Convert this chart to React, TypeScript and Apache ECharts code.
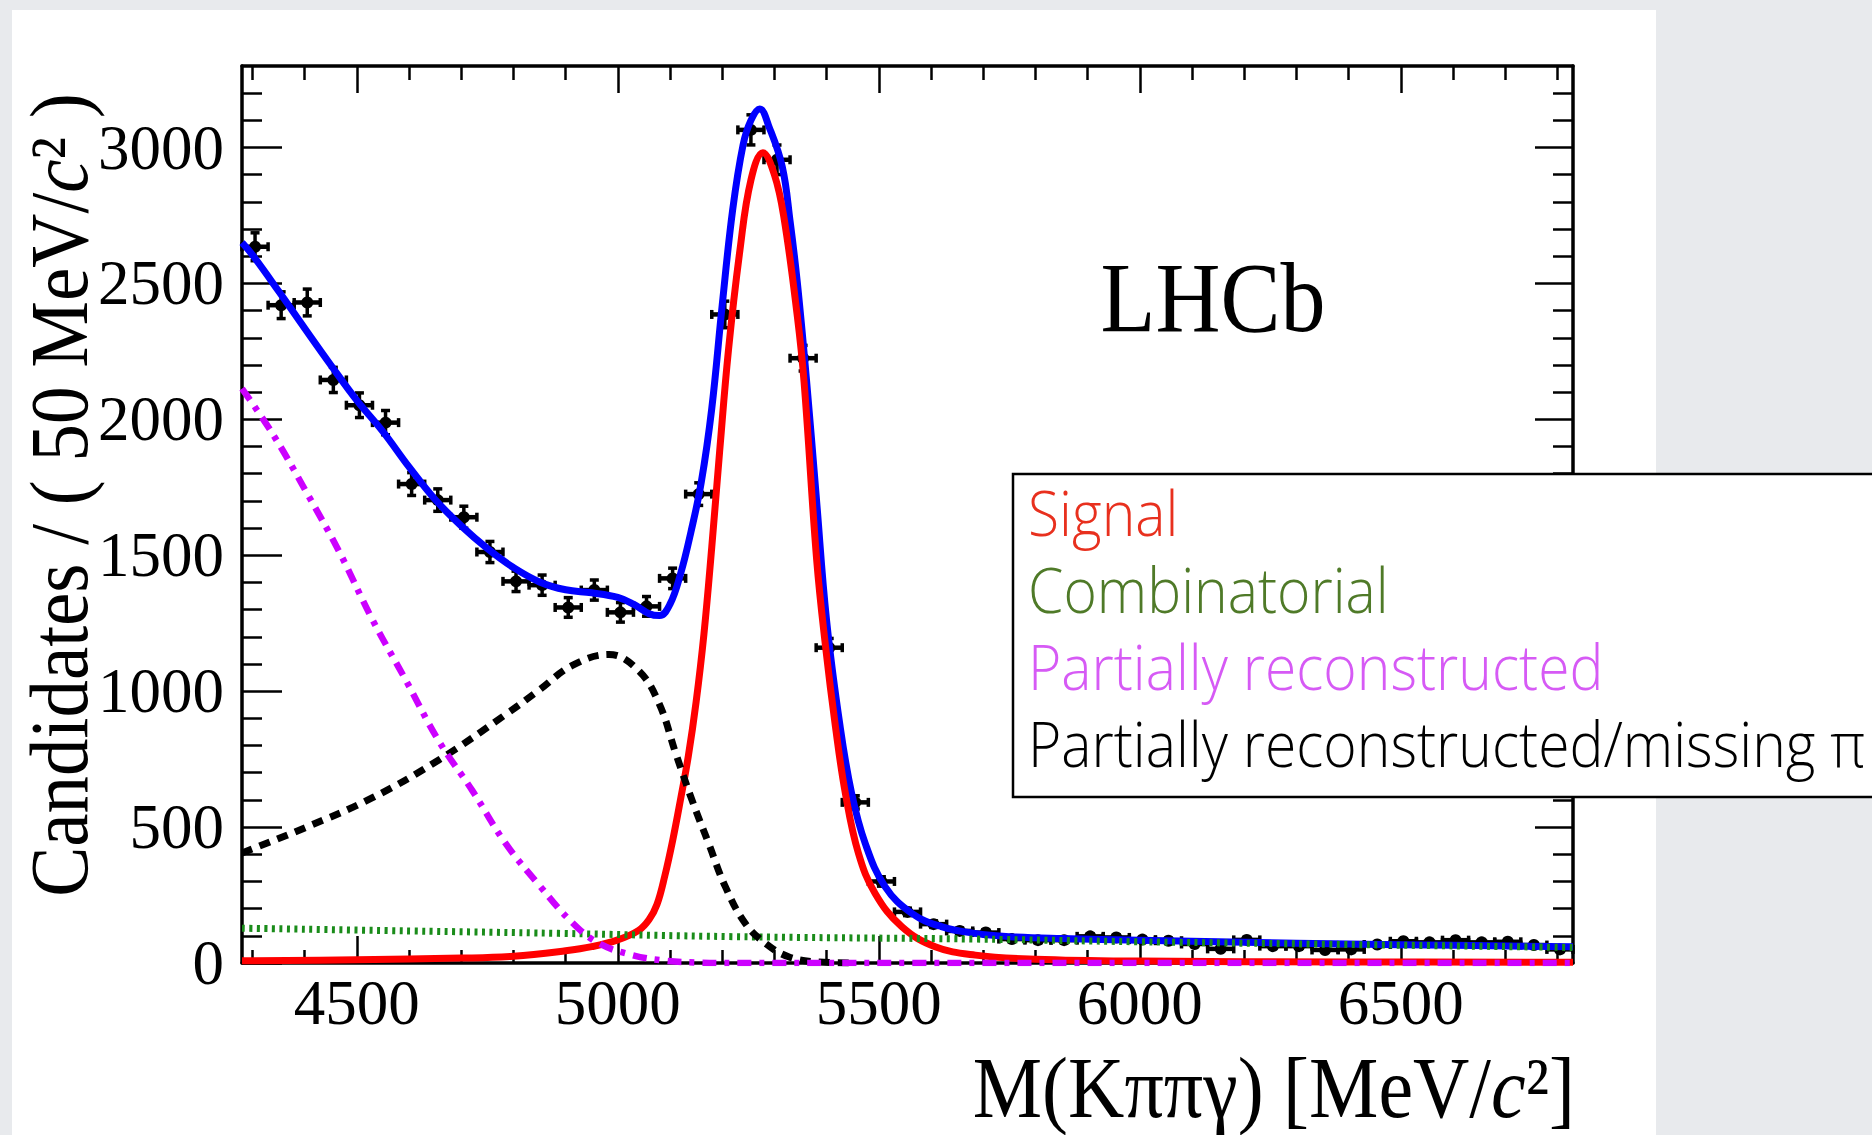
import React, { useEffect, useRef } from 'react';
import * as echarts from 'echarts';

// ---------- data ----------
const massBins = [
  4305, 4355, 4405, 4455, 4505, 4555, 4605, 4655, 4705, 4755,
  4805, 4855, 4905, 4955, 5005, 5055, 5105, 5155, 5205, 5255,
  5305, 5355, 5405, 5455, 5505, 5555, 5605, 5655, 5705, 5755,
  5805, 5855, 5905, 5955, 6005, 6055, 6105, 6155, 6205, 6255,
  6305, 6355, 6405, 6455, 6505, 6555, 6605, 6655, 6705, 6755, 6805,
];
const candidates = [
  2635, 2420, 2430, 2145, 2052, 1988, 1762, 1703, 1640, 1512,
  1404, 1390, 1308, 1372, 1290, 1312, 1415, 1725, 2386, 3065,
  2955, 2225, 1160, 591, 300, 188, 143, 118, 112, 88,
  84, 84, 98, 94, 86, 82, 70, 52, 85, 62,
  62, 48, 50, 68, 80, 76, 84, 76, 78, 66, 50,
];
const binHalfWidth = 25;

const totalX = [4280, 4300, 4350, 4400, 4450, 4500, 4550, 4600, 4650, 4700, 4750, 4800, 4850, 4900, 4950, 5000, 5030, 5060, 5080, 5100, 5120, 5140, 5160, 5180, 5200, 5220, 5240, 5255, 5272, 5290, 5315, 5330, 5344, 5362, 5380, 5400, 5426, 5448, 5474, 5512, 5563, 5620, 5684, 5750, 5850, 6000, 6200, 6400, 6600, 6830];
const totalY = [2650, 2605, 2472, 2335, 2200, 2070, 1955, 1825, 1705, 1608, 1525, 1455, 1402, 1373, 1362, 1345, 1320, 1285, 1278, 1320, 1430, 1585, 1770, 2040, 2420, 2770, 3010, 3100, 3142, 3075, 2930, 2730, 2502, 2134, 1720, 1260, 869, 624, 440, 281, 183, 134, 109, 97, 90, 84, 76, 70, 65, 60];

const signalX = [4280, 4500, 4700, 4800, 4900, 4950, 5000, 5040, 5060, 5075, 5090, 5105, 5120, 5135, 5150, 5165, 5180, 5195, 5212, 5234, 5255, 5278, 5300, 5318, 5344, 5357, 5381, 5398, 5417, 5436, 5461, 5493, 5544, 5608, 5685, 5800, 6000, 6400, 6830];
const signalY = [8, 12, 18, 25, 45, 60, 85, 120, 160, 215, 320, 450, 600, 760, 960, 1210, 1530, 1880, 2255, 2623, 2880, 2981, 2900, 2746, 2378, 2134, 1483, 1164, 869, 624, 404, 256, 134, 60, 29, 14, 7, 4, 3];

const combinatorialX = [4280, 4600, 4887, 5220, 5684, 6000, 6400, 6830];
const combinatorialY = [128, 118, 109, 97, 88, 78, 68, 57];

const partRecoX = [4280, 4339, 4402, 4466, 4530, 4594, 4657, 4721, 4785, 4849, 4913, 4964, 5028, 5092, 5150, 5200, 6830];
const partRecoY = [2113, 1946, 1737, 1514, 1263, 1040, 817, 635, 440, 287, 148, 72, 29, 8, 2, 0, 0];

const missingPiX = [4280, 4400, 4530, 4657, 4785, 4850, 4913, 4983, 5040, 5079, 5111, 5142, 5174, 5206, 5244, 5283, 5327, 5380, 5450];
const missingPiY = [405, 497, 608, 747, 914, 1005, 1095, 1135, 1075, 955, 771, 600, 440, 281, 146, 72, 23, 4, 0];

const xMajorTicks = [4500, 5000, 5500, 6000, 6500];
const xMinorTicks = [4300, 4400, 4600, 4700, 4800, 4900, 5100, 5200, 5300, 5400, 5600, 5700, 5800, 5900, 6100, 6200, 6300, 6400, 6600, 6700, 6800];
const yMajorTicks = [0, 500, 1000, 1500, 2000, 2500, 3000];
const yMinorTicks = [100, 200, 300, 400, 600, 700, 800, 900, 1100, 1200, 1300, 1400, 1600, 1700, 1800, 1900, 2100, 2200, 2300, 2400, 2600, 2700, 2800, 2900, 3100, 3200];

const legendLabels = ['Signal', 'Combinatorial', 'Partially reconstructed', 'Partially reconstructed/missing π'];
const legendColors = ['#e8301e', '#4f7a28', '#d65af5', '#000000'];

// ---------- styling ----------
const serif = '"Liberation Serif", "Times New Roman", serif';
const sans = '"Open Sans", "Noto Sans", sans-serif';
const X_MIN = 4280, X_MAX = 6830, Y_MIN = 0, Y_MAX = 3300;
const plain = (v: number) => String(v);

function xAxis(position: string, ticks: number[], len: number, line: boolean, labels: boolean) {
  return {
    type: 'value', position, min: X_MIN, max: X_MAX,
    axisLine: { show: line, onZero: false, lineStyle: { color: '#000', width: 3.5 } },
    axisTick: { show: true, inside: true, length: len, customValues: ticks, lineStyle: { color: '#000', width: 2.5 } },
    axisLabel: labels
      ? { show: true, customValues: ticks, formatter: plain, fontFamily: serif, fontSize: 63, color: '#000', margin: 8 }
      : { show: false },
    splitLine: { show: false },
  };
}
function yAxis(position: string, ticks: number[], len: number, line: boolean, labels: boolean) {
  return {
    type: 'value', position, min: Y_MIN, max: Y_MAX,
    axisLine: { show: line, onZero: false, lineStyle: { color: '#000', width: 3.5 } },
    axisTick: { show: true, inside: true, length: len, customValues: ticks, lineStyle: { color: '#000', width: 2.5 } },
    axisLabel: labels
      ? { show: true, customValues: ticks, formatter: plain, fontFamily: serif, fontSize: 63, color: '#000', margin: 18 }
      : { show: false },
    splitLine: { show: false },
  };
}

function curve(name: string, xs: number[], ys: number[], color: string, width: number, type: any, z: number) {
  return {
    type: 'line', name, z, silent: true,
    data: xs.map((x, i) => [x, ys[i]]),
    showSymbol: false, symbol: 'none',
    smooth: 0.4,
    lineStyle: { color, width, type, cap: 'butt', join: 'round' },
  };
}

export default function App() {
  const ref = useRef<HTMLDivElement>(null);
  useEffect(() => {
    const chart = echarts.init(ref.current!, null, { renderer: 'svg' });
    const option: any = {
      animation: false,
      backgroundColor: '#e8eaed',
      grid: { left: 242, top: 66, width: 1331, height: 897, containLabel: false, outerBoundsMode: 'none' },
      xAxis: [
        xAxis('bottom', xMajorTicks, 27, true, true),
        xAxis('bottom', xMinorTicks, 13, false, false),
        xAxis('top', xMajorTicks, 27, true, false),
        xAxis('top', xMinorTicks, 14, false, false),
      ],
      yAxis: [
        yAxis('left', yMajorTicks, 40, true, true),
        yAxis('left', yMinorTicks, 20, false, false),
        yAxis('right', yMajorTicks, 38, true, false),
        yAxis('right', yMinorTicks, 20, false, false),
      ],
      series: [
        {
          type: 'custom', name: 'Data', z: 1, silent: true,
          xAxisIndex: 0, yAxisIndex: 0,
          data: massBins.map((m, i) => [m, candidates[i]]),
          encode: { x: 0, y: 1 },
          renderItem: (params: any, api: any) => {
            const x = api.value(0);
            const y = api.value(1);
            const err = Math.sqrt(y);
            const c = api.coord([x, y]);
            const hi = api.coord([x, y + err]);
            const lo = api.coord([x, y - err]);
            const l = api.coord([x - binHalfWidth, y]);
            const r = api.coord([x + binHalfWidth, y]);
            const st = { stroke: '#000', lineWidth: 3.5 };
            return {
              type: 'group',
              children: [
                { type: 'line', shape: { x1: c[0], y1: hi[1], x2: c[0], y2: lo[1] }, style: st },
                { type: 'line', shape: { x1: l[0], y1: c[1], x2: r[0], y2: c[1] }, style: { stroke: '#000', lineWidth: 4.5 } },
                { type: 'line', shape: { x1: c[0] - 4.5, y1: hi[1], x2: c[0] + 4.5, y2: hi[1] }, style: st },
                { type: 'line', shape: { x1: c[0] - 4.5, y1: lo[1], x2: c[0] + 4.5, y2: lo[1] }, style: st },
                { type: 'line', shape: { x1: l[0], y1: c[1] - 4.5, x2: l[0], y2: c[1] + 4.5 }, style: st },
                { type: 'line', shape: { x1: r[0], y1: c[1] - 4.5, x2: r[0], y2: c[1] + 4.5 }, style: st },
                { type: 'circle', shape: { cx: c[0], cy: c[1], r: 6 }, style: { fill: '#000' } },
              ],
            };
          },
        },
        curve('Total fit', totalX, totalY, '#0000ff', 7, 'solid', 2),
        curve('Signal', signalX, signalY, '#ff0000', 7, 'solid', 3),
        curve('Combinatorial', combinatorialX, combinatorialY, '#1a8c1a', 7, [3, 4.5], 4),
        curve('Partially reconstructed/missing π', missingPiX, missingPiY, '#000000', 7, [11, 8], 5),
        curve('Partially reconstructed', partRecoX, partRecoY, '#cc00ff', 6.5, [14, 8, 5, 8], 6),
      ],
      graphic: [
        { type: 'rect', z: -100, silent: true, shape: { x: 12, y: 10, width: 1644, height: 1140 }, style: { fill: '#ffffff' } },
        {
          type: 'text', x: 1213, y: 298, scaleY: 1.1, z: 50,
          style: { text: 'LHCb', fontFamily: serif, fontSize: 90, fill: '#000', align: 'center', verticalAlign: 'middle', textAlign: 'center', textVerticalAlign: 'middle' },
        },
        {
          type: 'text', x: 1575, y: 1088, scaleY: 1.1, z: 50,
          style: {
            text: 'M(Kππγ) [MeV/{it|c}²]', fontFamily: serif, fontSize: 78, fill: '#000',
            align: 'right', verticalAlign: 'middle', textAlign: 'right', textVerticalAlign: 'middle',
            rich: { it: { fontStyle: 'italic', fontFamily: serif, fontSize: 78, fill: '#000' } },
          },
        },
        {
          type: 'text', x: 59, y: 495, rotation: Math.PI / 2, scaleY: 1.09, z: 50,
          style: {
            text: 'Candidates / ( 50 MeV/{it|c}² )', fontFamily: serif, fontSize: 75, fill: '#000',
            align: 'center', verticalAlign: 'middle', textAlign: 'center', textVerticalAlign: 'middle',
            rich: { it: { fontStyle: 'italic', fontFamily: serif, fontSize: 75, fill: '#000' } },
          },
        },
        { type: 'rect', z: 100, shape: { x: 1013, y: 474, width: 950, height: 323 }, style: { fill: '#ffffff', stroke: '#000', lineWidth: 2.5 } },
        ...legendLabels.map((t, i) => ({
          type: 'text', x: 1028, y: 512 + i * 77, scaleX: 0.92, z: 101,
          style: {
            text: t, fontFamily: sans, fontWeight: 300, fontSize: 62, fill: legendColors[i],
            align: 'left', verticalAlign: 'middle', textAlign: 'left', textVerticalAlign: 'middle',
          },
        })),
      ],
    };
    chart.setOption(option);
    return () => chart.dispose();
  }, []);
  return <div ref={ref} style={{ position: 'fixed', left: 0, top: 0, width: 1872, height: 1135 }} />;
}
